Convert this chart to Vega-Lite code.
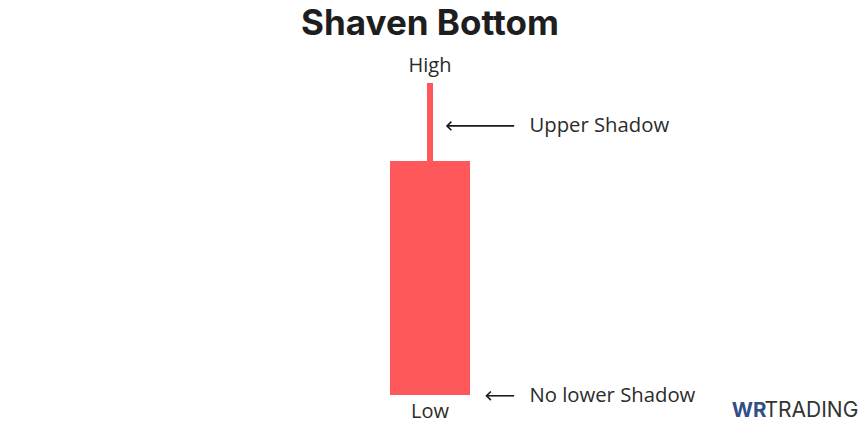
{
  "$schema": "https://vega.github.io/schema/vega-lite/v6.json",
  "width": 860,
  "height": 423,
  "autosize": {"type": "fit", "contains": "padding"},
  "padding": 0,
  "background": "white",
  "config": {"view": {"stroke": null}},
  "datasets": {
    "candle": [{"x": 5, "open": 130, "high": 140, "low": 100, "close": 100}],
    "labels": [
      {"label": "High", "x": 5, "y": 142.2},
      {"label": "Low", "x": 5, "y": 97.8}
    ],
    "notes": [
      {"label": "Upper Shadow", "x": 6.17, "y": 134.5},
      {"label": "No lower Shadow", "x": 6.17, "y": 99.9}
    ],
    "arrows": [
      {"x": 5.2, "x2": 5.99, "y": 134.5},
      {"x": 5.665, "x2": 5.99, "y": 99.9}
    ],
    "title": [{"label": "Shaven Bottom", "x": 5, "y": 146.15}],
    "logoA": [{"label": "WR", "x": 8.55, "y": 97.9}],
    "logoB": [{"label": "TRADING", "x": 8.935, "y": 97.9}]
  },
  "layer": [
    {
      "data": {"name": "candle"},
      "mark": {"type": "rule", "color": "#FF585A", "strokeWidth": 6},
      "encoding": {
        "x": {"field": "x", "type": "quantitative", "scale": {"domain": [0, 10], "nice": false, "zero": false}, "axis": null},
        "y": {"field": "high", "type": "quantitative", "scale": {"domain": [96.41, 150.64], "nice": false, "zero": false}, "axis": null},
        "y2": {"field": "open"}
      }
    },
    {
      "data": {"name": "candle"},
      "mark": {"type": "bar", "color": "#FF585A", "size": 80},
      "encoding": {
        "x": {"field": "x", "type": "quantitative"},
        "y": {"field": "open", "type": "quantitative"},
        "y2": {"field": "close"}
      }
    },
    {
      "data": {"name": "labels"},
      "mark": {"type": "text", "font": "Open Sans", "fontSize": 20, "color": "#2b2b2b", "align": "center", "baseline": "middle"},
      "encoding": {
        "x": {"field": "x", "type": "quantitative"},
        "y": {"field": "y", "type": "quantitative"},
        "text": {"field": "label"}
      }
    },
    {
      "data": {"name": "notes"},
      "mark": {"type": "text", "font": "Open Sans", "fontSize": 20.3, "color": "#2b2b2b", "align": "left", "baseline": "middle"},
      "encoding": {
        "x": {"field": "x", "type": "quantitative"},
        "y": {"field": "y", "type": "quantitative"},
        "text": {"field": "label"}
      }
    },
    {
      "data": {"name": "arrows"},
      "mark": {"type": "rule", "color": "#1a1a1a", "strokeWidth": 1.6},
      "encoding": {
        "x": {"field": "x", "type": "quantitative"},
        "x2": {"field": "x2"},
        "y": {"field": "y", "type": "quantitative"}
      }
    },
    {
      "data": {"name": "arrows"},
      "mark": {"type": "point", "shape": "M1,-1L0,0L1,1", "filled": false, "color": "#1a1a1a", "strokeWidth": 1.6, "size": 75, "opacity": 1},
      "encoding": {
        "x": {"field": "x", "type": "quantitative"},
        "y": {"field": "y", "type": "quantitative"}
      }
    },
    {
      "data": {"name": "title"},
      "mark": {"type": "text", "font": "Inter", "fontWeight": "bold", "fontSize": 35, "color": "#1e1e1e", "align": "center", "baseline": "alphabetic"},
      "encoding": {
        "x": {"field": "x", "type": "quantitative"},
        "y": {"field": "y", "type": "quantitative"},
        "text": {"field": "label"}
      }
    },
    {
      "data": {"name": "logoA"},
      "mark": {"type": "text", "font": "Inter", "fontWeight": "bold", "fontSize": 20.5, "color": "#2f4f86", "align": "left", "baseline": "middle", "letterSpacing": -1.5},
      "encoding": {
        "x": {"field": "x", "type": "quantitative"},
        "y": {"field": "y", "type": "quantitative"},
        "text": {"field": "label"}
      }
    },
    {
      "data": {"name": "logoB"},
      "mark": {"type": "text", "font": "Inter", "fontSize": 21, "color": "#333333", "align": "left", "baseline": "middle", "letterSpacing": -0.2},
      "encoding": {
        "x": {"field": "x", "type": "quantitative"},
        "y": {"field": "y", "type": "quantitative"},
        "text": {"field": "label"}
      }
    }
  ]
}
